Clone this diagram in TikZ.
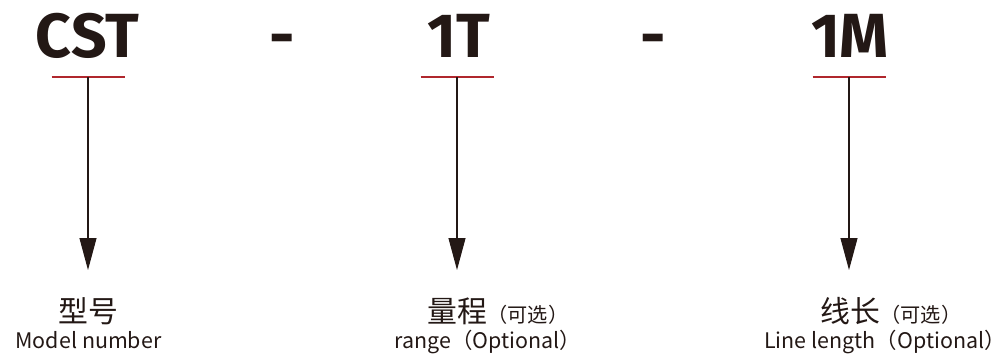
\documentclass[tikz,border=0pt]{standalone}
\usepackage{fontspec}
\setmainfont{Noto Sans CJK SC}
\newfontfamily\codefont{Fira Sans}
\usetikzlibrary{arrows.meta,positioning}
\definecolor{ink}{HTML}{231815}
\definecolor{markred}{HTML}{B0272D}
\begin{document}
\begin{tikzpicture}[x=0.02cm, y=-0.02cm,
  every node/.style={inner sep=0pt, text=ink},
  code/.style={font=\codefont\bfseries\fontsize{35.5}{36}\selectfont, anchor=base},
  cname/.style={font=\fontsize{17}{17}\selectfont, anchor=base},
  opt/.style={font=\fontsize{11.5}{12}\selectfont, anchor=base west},
  ename/.style={font=\fontsize{12.2}{13}\selectfont, anchor=base},
  uline/.style={draw=markred, line width=1.4pt},
  pointer/.style={draw=ink, line width=0.6pt, -{Triangle[length=0.64cm, width=0.34cm]}}]
  \useasboundingbox (0,0) rectangle (1005,353);
  % Code parts
  \node[code] (cst) at (87.5,57) {CST};
  \node[code] (dash1) at (282,57) {-};
  \node[code] (t1) at (458.5,57) {1T};
  \node[code] (dash2) at (653,57) {-};
  \node[code] (m1) at (850,57) {1M};
  % Underlines and pointers
  \foreach \part/\x in {cst/88,t1/457,m1/849} {
    \coordinate (\part-ul) at (\x,77);
    \coordinate (\part-tip) at (\x,270);
    \draw[uline] (\x-36.5,77) -- (\x+36.5,77);
    \draw[pointer] (\part-ul) -- (\part-tip);
  }
  % Labels
  \node[cname] (cst-zh) at (88,322) {型号};
  \node[ename] (cst-en) at (88.5,348) {Model number};
  \node[cname] (t1-zh) at (457,322) {量程};
  \node[opt] (t1-opt) at (t1-zh.base east) {（可选）};
  \node[ename] (t1-en) at (488,348) {range（Optional）};
  \node[cname] (m1-zh) at (850,322) {线长};
  \node[opt] (m1-opt) at (m1-zh.base east) {（可选）};
  \node[ename] (m1-en) at (885,348) {Line length（Optional）};
\end{tikzpicture}
\end{document}
